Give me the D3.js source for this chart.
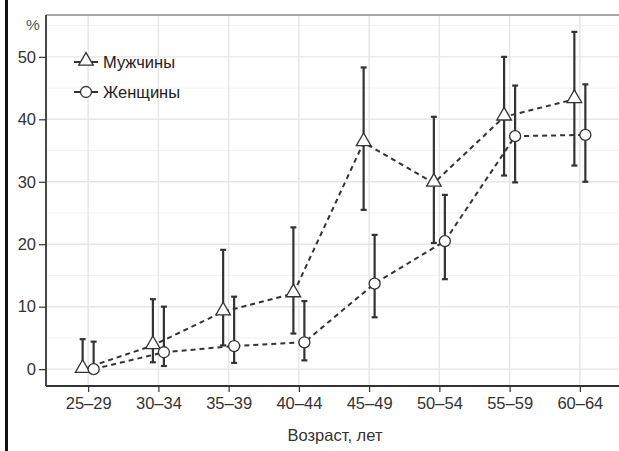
<!DOCTYPE html>
<html>
<head>
<meta charset="utf-8">
<script src="https://cdn.jsdelivr.net/npm/d3@7"></script>
<style>
  body { margin: 0; background: #fff; }
  svg text { font-family: 'Liberation Sans', Arial, sans-serif; }
</style>
</head>
<body>
<div id="wrapper"></div>
<script>
const ageGroups = ['25–29', '30–34', '35–39', '40–44', '45–49', '50–54', '55–59', '60–64']
const yTicks = [0, 10, 20, 30, 40, 50]

// men (triangles)
const menValue = [0, 3.8, 9.2, 12.1, 36.3, 29.8, 40.4, 43.2]
const menLow = [0, 1.1, 3.8, 5.7, 25.5, 20.2, 31.0, 32.6]
const menHigh = [4.8, 11.2, 19.1, 22.7, 48.3, 40.4, 50.0, 54.0]

// women (circles)
const womenValue = [0, 2.7, 3.7, 4.3, 13.7, 20.5, 37.3, 37.5]
const womenLow = [0, 0.5, 1.0, 1.4, 8.3, 14.4, 29.9, 30.0]
const womenHigh = [4.4, 10.0, 11.6, 10.9, 21.5, 27.9, 45.4, 45.6]

const seriesNames = ['Мужчины', 'Женщины']

const width = 619
const height = 451
const dims = { left: 46, top: 15, right: 622, bottom: 386 }

const svg = d3.select('#wrapper')
  .append('svg')
  .attr('width', width)
  .attr('height', height)

const xScale = d3.scalePoint()
  .domain(ageGroups)
  .range([dims.left, dims.right])
  .padding(0.6)

const yScale = d3.scaleLinear()
  .domain([-2.7, 56.7])
  .range([dims.bottom, dims.top])

const dodge = 5.5
const ink = '#333333'
const font = 'Liberation Sans, Arial, sans-serif'

// build rows for each series
const makeRows = (vals, lows, highs, off) =>
  ageGroups.map((g, i) => ({ g, v: vals[i], lo: lows[i], hi: highs[i], x: xScale(g) + off }))
const men = makeRows(menValue, menLow, menHigh, -dodge)
const women = makeRows(womenValue, womenLow, womenHigh, dodge)

// left black edge
svg.append('line')
  .attr('x1', 6.5).attr('x2', 6.5)
  .attr('y1', 0).attr('y2', height)
  .attr('stroke', '#111').attr('stroke-width', 3)

// grid
const grid = svg.append('g')
const minor = d3.range(5, 56, 10)
grid.selectAll('.minor').data(minor).enter().append('line')
  .attr('x1', dims.left).attr('x2', dims.right)
  .attr('y1', d => yScale(d)).attr('y2', d => yScale(d))
  .attr('stroke', '#f2f2f2').attr('stroke-width', 1)
grid.selectAll('.major').data(yTicks).enter().append('line')
  .attr('x1', dims.left).attr('x2', dims.right)
  .attr('y1', d => yScale(d)).attr('y2', d => yScale(d))
  .attr('stroke', '#e6e6e6').attr('stroke-width', 1.4)
grid.selectAll('.vmajor').data(ageGroups).enter().append('line')
  .attr('x1', d => xScale(d)).attr('x2', d => xScale(d))
  .attr('y1', dims.top).attr('y2', dims.bottom)
  .attr('stroke', '#e6e6e6').attr('stroke-width', 1.4)

// top border
svg.append('line')
  .attr('x1', dims.left).attr('x2', dims.right)
  .attr('y1', dims.top).attr('y2', dims.top)
  .attr('stroke', '#8a8a8a').attr('stroke-width', 1.5)

// axes
const xAxis = svg.append('g')
  .attr('transform', `translate(0, ${dims.bottom})`)
  .call(d3.axisBottom(xScale).tickSize(6).tickPadding(5))
xAxis.select('.domain').attr('stroke', ink).attr('stroke-width', 1.8)
  .attr('d', `M${dims.left},0H${dims.right}`)
xAxis.selectAll('.tick line').attr('stroke', ink).attr('stroke-width', 1.2)
xAxis.selectAll('.tick text').attr('fill', '#333').attr('font-size', 16.5)
  .attr('font-family', font)

const yAxis = svg.append('g')
  .attr('transform', `translate(${dims.left}, 0)`)
  .call(d3.axisLeft(yScale).tickValues(yTicks).tickSize(7).tickPadding(3))
yAxis.select('.domain').attr('stroke', ink).attr('stroke-width', 1.8)
  .attr('d', `M0,${dims.top}V${dims.bottom}`)
yAxis.selectAll('.tick line').attr('stroke', ink).attr('stroke-width', 1.2)
yAxis.selectAll('.tick text').attr('fill', '#333').attr('font-size', 16.5)
  .attr('font-family', font)

svg.append('text')
  .attr('x', 33).attr('y', 30)
  .attr('text-anchor', 'middle')
  .attr('font-size', 15.5).attr('fill', '#555')
  .text('%')

svg.append('text')
  .attr('x', (dims.left + dims.right) / 2 + 1).attr('y', 441)
  .attr('text-anchor', 'middle')
  .attr('font-size', 16.5).attr('fill', '#333')
  .text('Возраст, лет')

// dashed lines
const line = d3.line().x(d => d.x).y(d => yScale(d.v))
;[men, women].forEach(rows => {
  svg.append('path')
    .attr('d', line(rows))
    .attr('fill', 'none')
    .attr('stroke', ink)
    .attr('stroke-width', 2)
    .attr('stroke-dasharray', '5,4')
})

// error bars
const cap = 3
;[men, women].forEach(rows => {
  const g = svg.append('g').attr('stroke', ink).attr('stroke-width', 2.2)
  rows.forEach(d => {
    g.append('line').attr('x1', d.x).attr('x2', d.x)
      .attr('y1', yScale(d.lo)).attr('y2', yScale(d.hi))
    g.append('line').attr('x1', d.x - cap).attr('x2', d.x + cap)
      .attr('y1', yScale(d.hi)).attr('y2', yScale(d.hi))
    g.append('line').attr('x1', d.x - cap).attr('x2', d.x + cap)
      .attr('y1', yScale(d.lo)).attr('y2', yScale(d.lo))
  })
})

// markers
const triSym = d3.symbol().type(d3.symbolTriangle).size(92)
svg.append('g').selectAll('path').data(men).enter().append('path')
  .attr('d', triSym)
  .attr('transform', d => `translate(${d.x}, ${yScale(d.v) - 1})`)
  .attr('fill', '#fff').attr('stroke', ink).attr('stroke-width', 1.3)

svg.append('g').selectAll('circle').data(women).enter().append('circle')
  .attr('cx', d => d.x).attr('cy', d => yScale(d.v))
  .attr('r', 5.5)
  .attr('fill', '#fff').attr('stroke', ink).attr('stroke-width', 1.3)

// legend
const legend = svg.append('g')
seriesNames.forEach((name, i) => {
  const ly = 62 + i * 30
  legend.append('line')
    .attr('x1', 74).attr('x2', 98).attr('y1', ly).attr('y2', ly)
    .attr('stroke', ink).attr('stroke-width', 1.8).attr('stroke-dasharray', '6,12')
  if (i === 0) {
    legend.append('path').attr('d', triSym)
      .attr('transform', `translate(86, ${ly - 1})`)
      .attr('fill', '#fff').attr('stroke', ink).attr('stroke-width', 1.3)
  } else {
    legend.append('circle').attr('cx', 86).attr('cy', ly).attr('r', 5.5)
      .attr('fill', '#fff').attr('stroke', ink).attr('stroke-width', 1.3)
  }
  legend.append('text')
    .attr('x', 103).attr('y', ly + 6)
    .attr('font-size', 16.5).attr('fill', '#222')
    .text(name)
})
</script>
</body>
</html>
